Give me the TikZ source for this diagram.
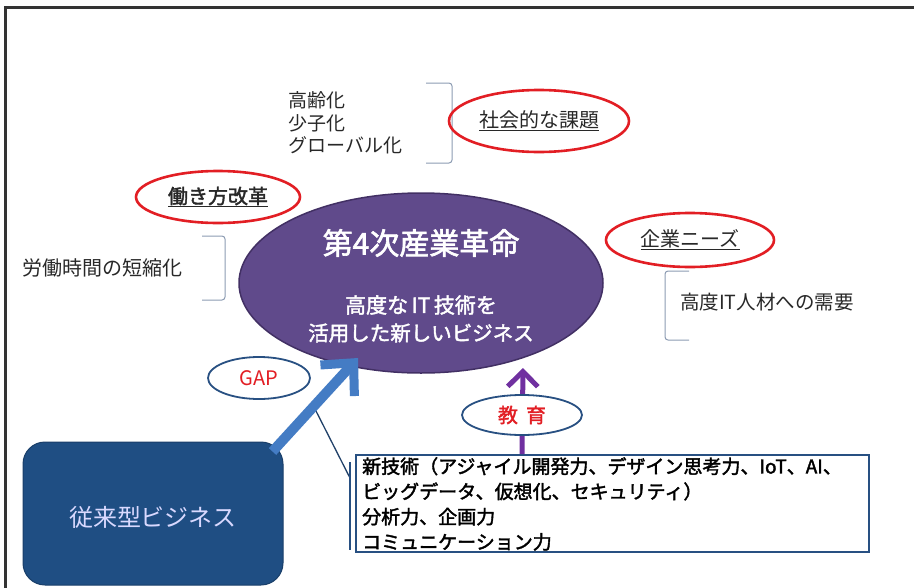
\documentclass[tikz,border=0pt]{standalone}
\usepackage{fontspec}
\setmainfont{Noto Sans CJK JP}[AutoFakeBold=2]
\usetikzlibrary{shapes.geometric,arrows.meta,calc}
\definecolor{redc}{RGB}{226,30,36}
\definecolor{purp}{RGB}{96,74,139}
\definecolor{purpdark}{RGB}{66,48,100}
\definecolor{arrpurp}{RGB}{112,48,160}
\definecolor{blueA}{RGB}{68,124,196}
\definecolor{navy}{RGB}{31,78,131}
\definecolor{outl}{RGB}{40,80,130}
\definecolor{brk}{RGB}{140,155,178}
\definecolor{txt}{RGB}{40,40,40}
\tikzset{
  redell/.style={ellipse, draw=redc, line width=2.6pt, inner sep=0pt, text=txt},
  blueell/.style={ellipse, draw=outl, line width=1.8pt, fill=white, inner sep=0pt},
  plain/.style={text=txt, inner sep=0pt},
  brkline/.style={draw=brk, line width=1pt, rounded corners=3pt},
}
\newcommand{\fs}[1]{\fontsize{#1}{#1}\selectfont}
\begin{document}
\begin{tikzpicture}[x=1pt,y=-1pt]
\useasboundingbox (0,0) rectangle (914,587);
% frame
\draw[line width=3pt, black!80] (5,590) -- (5,7) -- (916,7);

% social issues
\node[plain, anchor=west, align=left, font=\fs{19}] (social) at (288,123)
  {高齢化\\[3.5pt]少子化\\[3.5pt]グローバル化};
\coordinate (b1t) at (426,83);
\draw[brkline] (b1t) -- (452,83) -- (452,163) -- (426,163);
\node[redell, minimum width=180, minimum height=62, font=\fs{20}] (kadai) at (539,121) {\underline{社会的な課題}};

% work style
\node[redell, minimum width=164, minimum height=52, font=\bfseries\fs{20}] (hataraki) at (218,197) {\underline{働き方改革}};
\node[plain, anchor=west, font=\fs{20}] (roudou) at (22,268) {労働時間の短縮化};
\coordinate (b2t) at (202,236);
\draw[brkline] (b2t) -- (225,236) -- (225,300) -- (202,300);

% company needs
\node[redell, minimum width=168, minimum height=54, font=\fs{20}] (kigyo) at (690,240) {\underline{企業ニーズ}};
\coordinate (b3t) at (689,271);
\draw[brkline] (b3t) -- (665,271) -- (665,340) -- (689,340);
\node[plain, anchor=west, font=\fs{19.5}] (jinzai) at (680,302) {高度IT人材への需要};

% main ellipse
\node[ellipse, fill=purp, draw=purpdark, line width=1.5pt, minimum width=364, minimum height=180, inner sep=0pt] (main) at (421,283) {};
\node[text=white, font=\bfseries\fs{30}, inner sep=0pt] (t1) at (421,243) {第4次産業革命};
\node[text=white, font=\bfseries\fs{21}, inner sep=0pt] (t2) at (421,305) {高度な\,IT\,技術を};
\node[text=white, font=\bfseries\fs{20.5}, inner sep=0pt] (t3) at (421,333) {活用した新しいビジネス};

% skills box
\node[draw=outl, line width=2pt, fill=white, minimum width=513, minimum height=97, inner sep=0pt] (skills) at (612.5,503.5) {};
\node[anchor=north west, align=left, font=\bfseries\fs{19}, text=black, inner sep=0pt] (skilltxt) at (362,457)
  {新技術（アジャイル開発力、デザイン思考力、IoT、AI、\\[6.2pt]ビッグデータ、仮想化、セキュリティ）\\[6.2pt]分析力、企画力\\[6.2pt]コミュニケーション力};

% callout line
\coordinate (callA) at (316,411);
\coordinate (callB) at (350,478);
\draw[outl!80!black, line width=1.3pt] (callA) -- (callB);
\draw[outl, line width=2pt] (350,462) -- (350,550);

% legacy business
\node[rounded corners=22pt, fill=navy, draw=navy!80!black, line width=1pt, minimum width=260, minimum height=143, inner sep=0pt] (biz) at (153,513.5) {};
\node[text=white!85!blue, font=\fs{24}, inner sep=0pt] (biztxt) at (153,517) {従来型ビジネス};

% purple education arrow
\coordinate (edutip) at (523,368);
\draw[arrpurp, line width=5pt, -{Straight Barb[length=15pt, width=30pt, line width=5pt]}] ($(skills.north west)+(167,0)$) -- (edutip);
\node[blueell, minimum width=120, minimum height=40, text=redc, font=\bfseries\fs{20}] (edu) at (522,415) {教\hspace{0.4em}育};

% GAP arrow
\coordinate (gaptip) at (358,358);
\draw[blueA, line width=10pt, -{Straight Barb[length=24pt, width=46pt, line width=9pt]}] ($(biz.north east)+(-11,10)$) -- (gaptip);
\node[blueell, minimum width=102, minimum height=42, text=redc, font=\fs{20}] (gap) at (259,378) {GAP};
\end{tikzpicture}
\end{document}
